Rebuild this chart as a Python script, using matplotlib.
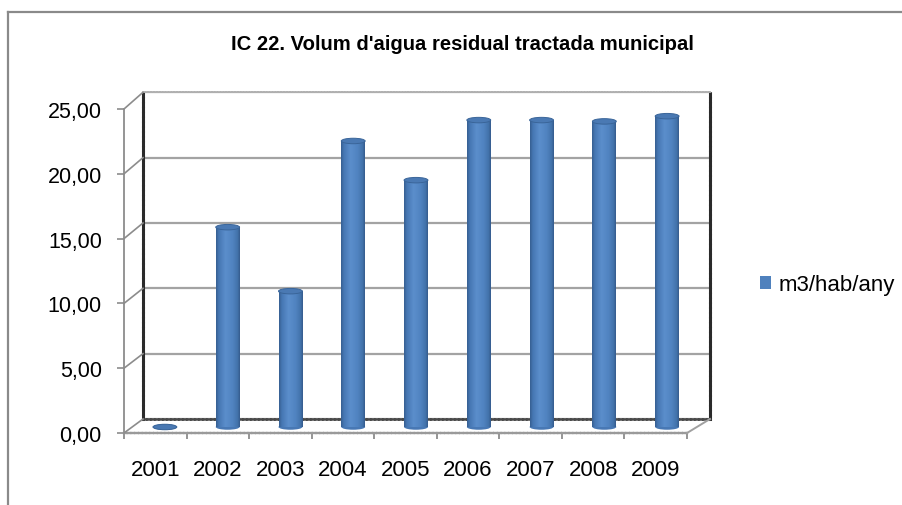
import matplotlib
matplotlib.use('Agg')
import matplotlib.pyplot as plt
import numpy as np
from matplotlib.patches import Ellipse, Patch
from matplotlib.lines import Line2D
from matplotlib.colors import LinearSegmentedColormap

# ---------------- data ----------------
years = ['2001', '2002', '2003', '2004', '2005', '2006', '2007', '2008', '2009']
values = [0.0, 15.3, 10.4, 21.9, 18.9, 23.5, 23.5, 23.4, 23.8]
y_ticks = [0, 5, 10, 15, 20, 25]
y_tick_labels = ['0,00', '5,00', '10,00', '15,00', '20,00', '25,00']
series_name = 'm3/hab/any'
title = "IC 22. Volum d'aigua residual tractada municipal"

plt.rcParams['font.family'] = ['Liberation Sans', 'DejaVu Sans']

W, H = 902, 506
fig = plt.figure(figsize=(W / 100, H / 100), dpi=100)
fig.patch.set_facecolor('white')


def rect(left, right, top, bottom):
    return [left / W, 1 - bottom / H, (right - left) / W, (bottom - top) / H]


BLUE = '#4F81BD'
n = len(years)

# ---------------- back wall ----------------
ax_back = fig.add_axes(rect(143, 710, 93.3, 420))
ax_back.set_xlim(-0.5, n - 0.5)
ax_back.set_ylim(0, 25)
ax_back.set_yticks(y_ticks)
ax_back.set_xticks([])
ax_back.grid(axis='y', color='#a3a3a3', lw=1.6)
ax_back.tick_params(left=False, bottom=False, labelleft=False, labelbottom=False)
for side in ('left', 'right'):
    ax_back.spines[side].set_color('#2a2a2a')
    ax_back.spines[side].set_linewidth(2.2)
    ax_back.spines[side].set_linestyle((0, (1, 0.6)))
ax_back.spines['bottom'].set_color('#4a4a4a')
ax_back.spines['bottom'].set_linewidth(1.8)
ax_back.spines['bottom'].set_linestyle((0, (1, 0.6)))
ax_back.spines['top'].set_color('#b0b0b0')
ax_back.spines['top'].set_linewidth(1.3)
ax_back.spines['top'].set_linestyle((0, (1, 0.6)))

# ---------------- cylinders (mid depth) ----------------
ax_bars = fig.add_axes(rect(133.5, 698.5, 101.5, 428))
ax_bars.patch.set_visible(False)
ax_bars.axis('off')
x = np.arange(n)
bw = 0.38
bars = ax_bars.bar(x, values, width=bw, color=BLUE, linewidth=0, zorder=2, label=series_name)

cyl_cmap = LinearSegmentedColormap.from_list(
    'cyl', [(0.0, '#365e90'), (0.12, '#4677b3'), (0.4, '#5b8ecc'),
            (0.7, '#5083c0'), (0.9, '#4373ab'), (1.0, '#345b8c')])
grad = np.linspace(0, 1, 256).reshape(1, -1)
eh = 0.42
for b, xi, v in zip(bars, x, values):
    bot = Ellipse((xi, 0), bw, eh, facecolor='#4878b4', edgecolor='none',
                  zorder=1.9, clip_on=False)
    ax_bars.add_patch(bot)
    if v > 0:
        im = ax_bars.imshow(grad, cmap=cyl_cmap, aspect='auto', zorder=3,
                            extent=[b.get_x(), b.get_x() + b.get_width(), 0, v],
                            interpolation='bilinear')
        im.set_clip_path(b)
    top = Ellipse((xi, v), bw, eh, facecolor='#4a79b3', edgecolor='#3a6599',
                  lw=0.7, zorder=4, clip_on=False)
    ax_bars.add_patch(top)
ax_bars.set_xlim(-0.5, n - 0.5)
ax_bars.set_ylim(0, 25)

# ---------------- front axis ----------------
ax_front = fig.add_axes(rect(124, 687, 110, 434))
ax_front.patch.set_visible(False)
ax_front.set_xlim(-0.5, n - 0.5)
ax_front.set_ylim(0, 25)
ax_front.spines['top'].set_visible(False)
ax_front.spines['right'].set_visible(False)
ax_front.spines['left'].set_color('#8c8c8c')
ax_front.spines['left'].set_linewidth(1.3)
ax_front.spines['bottom'].set_color('#9a9a9a')
ax_front.spines['bottom'].set_linewidth(1.7)
ax_front.spines['bottom'].set_linestyle((0, (1, 0.6)))
ax_front.set_yticks(y_ticks, labels=y_tick_labels)
ax_front.tick_params(axis='y', direction='out', length=5, width=1.2,
                     color='#8c8c8c', pad=11, labelsize=15.5, labelcolor='black')
ax_front.set_xticks(x, labels=years)
ax_front.set_xticks(np.arange(-0.5, n), minor=True)
ax_front.tick_params(axis='x', which='major', length=0, pad=19, labelsize=16)
ax_front.tick_params(axis='x', which='minor', direction='out', length=4, width=1.3,
                     color='#8c8c8c')

# 3D connectors between front axis and back wall
inv = fig.transFigure.inverted()
for v in y_ticks:
    p1 = inv.transform(ax_front.transData.transform((-0.5, v)))
    p2 = inv.transform(ax_back.transData.transform((-0.5, v)))
    fig.add_artist(Line2D([p1[0], p2[0]], [p1[1], p2[1]], color='#8c8c8c', lw=1.2))
p1 = inv.transform(ax_front.transData.transform((n - 0.5, 0)))
p2 = inv.transform(ax_back.transData.transform((n - 0.5, 0)))
fig.add_artist(Line2D([p1[0], p2[0]], [p1[1], p2[1]], color='#a0a0a0', lw=1.4))

# ---------------- title, legend, frame ----------------
fig.text(462 / W, 1 - 50 / H, title, ha='center', va='baseline',
         fontsize=14.6, fontweight='bold')

fig.legend(handles=[Patch(facecolor=BLUE, edgecolor='none')], labels=[series_name],
           loc='center left', bbox_to_anchor=(760 / W, 1 - 286 / H),
           bbox_transform=fig.transFigure, frameon=False, fontsize=16,
           handlelength=0.5, handleheight=0.5, handletextpad=0.35,
           borderpad=0, borderaxespad=0)

fig.add_artist(Line2D([8 / W, 1], [1 - 13 / H, 1 - 13 / H], color='#8a8a8a', lw=1.6))
fig.add_artist(Line2D([8 / W, 8 / W], [0, 1 - 13 / H], color='#8a8a8a', lw=1.6))

fig.savefig('out.png', dpi=100)
